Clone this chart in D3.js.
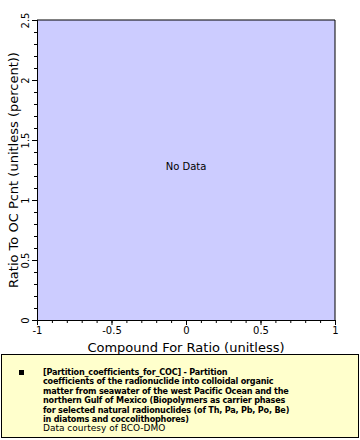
<!DOCTYPE html>
<html><head><meta charset="utf-8">
<script src="https://cdn.jsdelivr.net/npm/d3@7"></script>
<style>body{margin:0;background:#fff;}svg{display:block;font-family:"DejaVu Sans",sans-serif;}</style>
</head><body>
<svg id="c" width="360" height="440"></svg>
<script>
const xDomain = [-1, 1];
const yDomain = [0, 2.5];
const xTicks = [-1, -0.5, 0, 0.5, 1];
const yTicks = [0, 0.5, 1, 1.5, 2, 2.5];
const xTitle = "Compound For Ratio (unitless)";
const yTitle = "Ratio To OC Pcnt (unitless (percent))";
const noDataText = "No Data";
const legendLines = [
  "[Partition_coefficients_for_COC] - Partition",
  "coefficients of the radionuclide into colloidal organic",
  "matter from seawater of the west Pacific Ocean and the",
  "northern Gulf of Mexico (Biopolymers as carrier phases",
  "for selected natural radionuclides (of Th, Pa, Pb, Po, Be)",
  "in diatoms and coccolithophores)"
];
const creditText = "Data courtesy of BCO-DMO";

const svg = d3.select("#c");
const L = 37, R = 335, T = 20, B = 320;
const x = d3.scaleLinear().domain(xDomain).range([L, R]);
const y = d3.scaleLinear().domain(yDomain).range([B, T]);

svg.append("rect").attr("x", L).attr("y", T).attr("width", R - L).attr("height", B - T)
  .attr("fill", "#ccccff");

const fmt = d => String(d);
const minorX = d3.range(-1, 1.0001, 0.1);
const minorY = d3.range(0, 2.5001, 0.1);

svg.append("g").attr("transform", `translate(0,${B})`)
  .call(d3.axisBottom(x).tickValues(minorX).tickSize(3).tickFormat(""));
const gx2 = svg.append("g").attr("transform", `translate(0,${B})`)
  .call(d3.axisBottom(x).tickValues(xTicks).tickSize(5).tickFormat(fmt));
gx2.selectAll("text").attr("font-size", 10).attr("font-family", "DejaVu Sans").attr("fill", "#000").attr("dy", "0.6em");
svg.append("g").attr("transform", `translate(${L},0)`)
  .call(d3.axisLeft(y).tickValues(minorY).tickSize(3).tickFormat(""));
const gy2 = svg.append("g").attr("transform", `translate(${L},0)`)
  .call(d3.axisLeft(y).tickValues(yTicks).tickSize(5).tickFormat(fmt));
gy2.selectAll(".tick text").attr("font-size", 10).attr("font-family", "DejaVu Sans").attr("fill", "#000")
  .attr("x", 0).attr("y", 0).attr("dy", "0").attr("text-anchor", "middle")
  .attr("transform", "rotate(-90) translate(0,-8)");
svg.selectAll(".domain").attr("stroke", "#000");
svg.selectAll(".tick line").attr("stroke", "#000");

svg.append("line").attr("x1", L).attr("x2", R).attr("y1", T).attr("y2", T).attr("stroke", "#000");
svg.append("line").attr("x1", R).attr("x2", R).attr("y1", T).attr("y2", B).attr("stroke", "#000");

svg.append("text").attr("x", (L + R) / 2).attr("y", 352).attr("text-anchor", "middle")
  .attr("font-size", 13).text(xTitle);
svg.append("text").attr("transform", `translate(18,${(T + B) / 2}) rotate(-90)`).attr("text-anchor", "middle")
  .attr("font-size", 13).text(yTitle);
svg.append("text").attr("x", x(0)).attr("y", y(1.25)).attr("text-anchor", "middle")
  .attr("font-size", 10).text(noDataText);

// legend
svg.append("rect").attr("x", 1.5).attr("y", 354.5).attr("width", 357).attr("height", 83)
  .attr("fill", "#ffffcc").attr("stroke", "#000");
svg.append("rect").attr("x", 19).attr("y", 370).attr("width", 5).attr("height", 5).attr("fill", "#000");
const lg = svg.append("g");
legendLines.forEach((t, i) => {
  lg.append("text").attr("x", 43).attr("y", 375 + i * 9.4).attr("font-size", 9)
    .attr("font-weight", "bold").attr("letter-spacing", "-0.2")
    .attr("font-family", "DejaVu Sans Condensed, DejaVu Sans").text(t);
});
lg.append("text").attr("x", 43).attr("y", 375 + 6 * 9.4).attr("font-size", 9)
  .attr("font-family", "DejaVu Sans").text(creditText);
</script>
</body></html>
